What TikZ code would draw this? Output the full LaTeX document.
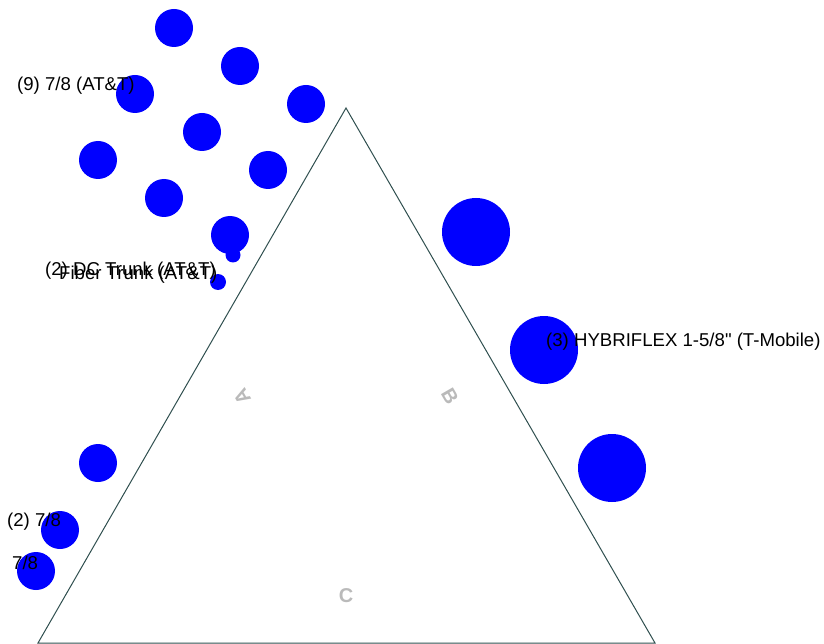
\documentclass[tikz,border=0pt]{standalone}
\usepackage{fontspec}
\setmainfont{Liberation Sans}[Ligatures=TeXOff]
\begin{document}
\begin{tikzpicture}[x=1pt,y=-1pt,
  cable/.style={circle,fill=blue,draw=none,inner sep=0pt,minimum size=38pt},
  bigcable/.style={circle,fill=blue,draw=none,inner sep=0pt,minimum size=68pt},
  tinycable/.style={circle,fill=blue,draw=none,inner sep=0pt,minimum size=16pt},
  lbl/.style={anchor=west,inner sep=0pt,font=\fontsize{18.6}{20}\selectfont,text=black},
  side/.style={inner sep=0pt,font=\fontsize{20}{20}\selectfont\bfseries,text=black!27},
  tri/.style={line width=1pt}]
\useasboundingbox (0,0) rectangle (824,644);
% triangle
\coordinate (T1) at (346,108);
\coordinate (T2) at (38,643);
\coordinate (T3) at (655,643);
\draw[tri,draw={rgb,255:red,47;green,79;blue,79}] (T1) -- (T2) -- (T3) -- cycle;
% AT&T 7/8 cables
\node[cable] (c1) at (174,28) {};
\node[cable] (c2) at (240,66) {};
\node[cable] (c3) at (135,94) {};
\node[cable] (c4) at (306,104) {};
\node[cable] (c5) at (202,132) {};
\node[cable] (c6) at (98,160) {};
\node[cable] (c7) at (268,170) {};
\node[cable] (c8) at (164,198) {};
\node[cable] (c9) at (230,235) {};
\node[tinycable,minimum size=15pt] (dc) at (233,255) {};
\node[tinycable] (fib) at (218,282) {};
% T-Mobile
\node[bigcable] (h1) at (476,232) {};
\node[bigcable] (h2) at (544,350) {};
\node[bigcable] (h3) at (612,468) {};
% lower-left
\node[cable] (l1) at (98,463) {};
\node[cable] (l2) at (60,530) {};
\node[cable] (l3) at (36,571) {};
% labels
\node[lbl] (t1) at (17,86) {(9) 7/8 (AT\&T)};
\node[lbl] (t2) at (45,271) {(2) DC Trunk (AT\&T)};
\node[lbl] (t3) at (59,275) {Fiber Trunk (AT\&T)};
\node[lbl] (t4) at (546,342) {(3) HYBRIFLEX 1-5/8" (T-Mobile)};
\node[lbl] (t5) at (7,522) {(2) 7/8};
\node[lbl] (t6) at (12,563) {7/8};
% side labels
\node[side,rotate=120] (sA) at (242,397) {A};
\node[side,rotate=-60] (sB) at (450,396) {B};
\node[side] (sC) at (346,596) {C};
\end{tikzpicture}
\end{document}
